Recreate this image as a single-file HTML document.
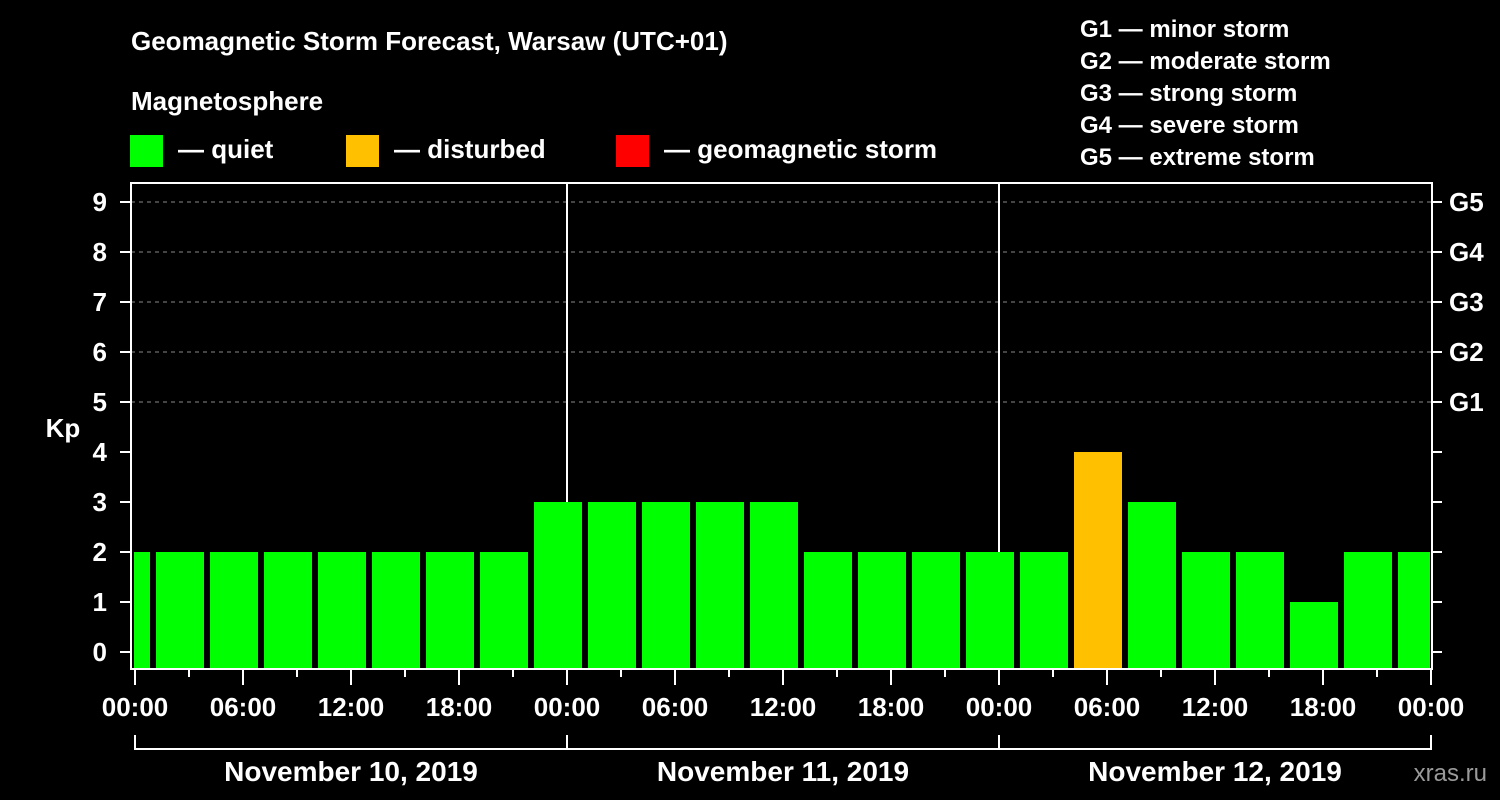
<!DOCTYPE html>
<html><head><meta charset="utf-8">
<style>
html,body{margin:0;padding:0;background:#000;}
svg{display:block;font-family:"Liberation Sans",sans-serif;font-weight:bold;}
</style></head>
<body>
<svg id="chart" width="1500" height="800" viewBox="0 0 1500 800">
<rect width="1500" height="800" fill="#000"/>
<text x="131" y="50" fill="#fff" font-size="26">Geomagnetic Storm Forecast, Warsaw (UTC+01)</text>
<text x="131" y="110" fill="#fff" font-size="26">Magnetosphere</text>
<g><rect x="130" y="135" width="33" height="32" fill="#00ff00"/><text x="178" y="158" fill="#fff" font-size="26">— quiet</text></g>
<g><rect x="346" y="135" width="33" height="32" fill="#ffc000"/><text x="394" y="158" fill="#fff" font-size="26">— disturbed</text></g>
<g><rect x="616" y="135" width="33" height="32" fill="#ff0000"/><text x="664" y="158" fill="#fff" font-size="26">— geomagnetic storm</text></g>
<g fill="#fff" font-size="24">
<text x="1080" y="37">G1 — minor storm</text>
<text x="1080" y="69">G2 — moderate storm</text>
<text x="1080" y="101">G3 — strong storm</text>
<text x="1080" y="133">G4 — severe storm</text>
<text x="1080" y="165">G5 — extreme storm</text>
</g>
<text x="63" y="437" fill="#fff" font-size="26" text-anchor="middle">Kp</text>
<text x="1487" y="781" fill="#9a9a9a" font-size="24" text-anchor="end" font-weight="normal">xras.ru</text>
<g id="plot"></g>
</svg>
<script>
const kpValues = [2, 2,2,2,2,2,2,2, 3,3,3,3,3, 2,2,2,2,2, 4,3,2,2,1,2,2];
const barColors = ["q","q","q","q","q","q","q","q","q","q","q","q","q","q","q","q","q","q","d","q","q","q","q","q","q"];
const yTicks = [0,1,2,3,4,5,6,7,8,9];
const gLabels = ["G1","G2","G3","G4","G5"];
const gLevels = [5,6,7,8,9];
const timeLabels = ["00:00","06:00","12:00","18:00","00:00","06:00","12:00","18:00","00:00","06:00","12:00","18:00","00:00"];
const dateLabels = ["November 10, 2019","November 11, 2019","November 12, 2019"];

const NS = "http://www.w3.org/2000/svg";
const plot = document.getElementById("plot");
const X0 = 135, PXH = 18, L = 131, R = 1432, T = 183, B = 669;
const xH = h => X0 + h * PXH;
const yK = k => 652 - 50 * k;
function mk(tag, attrs, parent) {
  const e = document.createElementNS(NS, tag);
  for (const k in attrs) e.setAttribute(k, attrs[k]);
  (parent || plot).appendChild(e);
  return e;
}
const colorMap = {q:"#00ff00", d:"#ffc000", s:"#ff0000"};

// grid
gLevels.forEach(k => {
  const g = mk("line", {x1:L, x2:R, y1:yK(k), y2:yK(k), stroke:"#888", "stroke-width":1, "stroke-dasharray":"4,4"});
  
  
});
// day separators
[1,2].forEach(d => {
  const l = mk("line", {x1:xH(24*d), x2:xH(24*d), y1:T, y2:B, stroke:"#fff", "stroke-width":2});
  
  
});
// bars
const clip = mk("clipPath", {id:"pc"});
mk("rect", {x:L+3, y:T, width:R-L-5, height:B-T}, clip);
kpValues.forEach((v, i) => {
  const c = xH(-0.5 + 3 * i);
  const r = mk("rect", {x:c-24, y:yK(v), width:48, height:B - yK(v), fill:colorMap[barColors[i]], "clip-path":"url(#pc)"});
  
  
});
// border
const border = mk("rect", {x:L, y:T, width:R-L, height:B-T, fill:"none", stroke:"#fff", "stroke-width":2});


// y ticks
yTicks.forEach(k => {
  mk("line", {x1:120, x2:L, y1:yK(k), y2:yK(k), stroke:"#fff", "stroke-width":2});
  mk("line", {x1:R, x2:1442, y1:yK(k), y2:yK(k), stroke:"#fff", "stroke-width":2});
  const t = mk("text", {x:107, y:yK(k)+9, fill:"#fff", "font-size":26, "text-anchor":"end"});
  t.textContent = k;
  
  
});
gLevels.forEach((k, i) => {
  const t = mk("text", {x:1449, y:yK(k)+9, fill:"#fff", "font-size":26});
  t.textContent = gLabels[i];
  
  
});
// x ticks
for (let h = 0; h <= 72; h += 3) {
  const major = h % 6 === 0;
  mk("line", {x1:xH(h), x2:xH(h), y1:B, y2:major ? 685 : 677, stroke:"#fff", "stroke-width":2});
}
timeLabels.forEach((s, i) => {
  const t = mk("text", {x:xH(6*i), y:716, fill:"#fff", "font-size":26, "text-anchor":"middle"});
  t.textContent = s;
  
  
});
// date brackets
mk("line", {x1:xH(0), x2:xH(72), y1:749, y2:749, stroke:"#fff", "stroke-width":2});
for (let d = 0; d <= 3; d++) mk("line", {x1:xH(24*d), x2:xH(24*d), y1:735, y2:750, stroke:"#fff", "stroke-width":2});
dateLabels.forEach((s, i) => {
  const t = mk("text", {x:xH(24*i+12), y:781, fill:"#fff", "font-size":28, "text-anchor":"middle"});
  t.textContent = s;
  
  
});
</script>
</body></html>
